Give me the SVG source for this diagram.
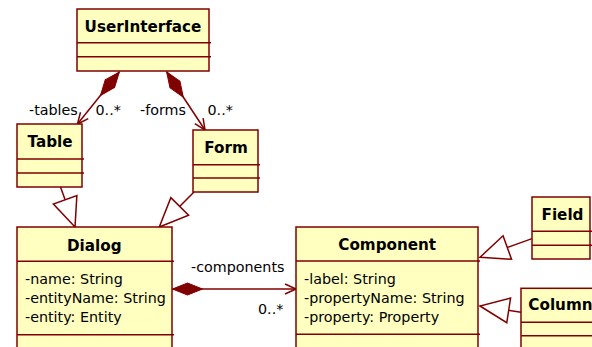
<svg xmlns="http://www.w3.org/2000/svg" width="592" height="347" viewBox="0 0 592 347">
<style>
.box{fill:#FFFFC0;stroke:#800000;stroke-width:1.5}
.sep{stroke:#800000;stroke-width:1.5}
.name{font-family:"DejaVu Sans",Verdana,sans-serif;font-weight:bold;font-size:15.2px;fill:#000}
.attr{font-family:"DejaVu Sans",Verdana,sans-serif;font-size:14.3px;fill:#000}
.lbl{font-family:"DejaVu Sans",Verdana,sans-serif;font-size:14.3px;fill:#000}
.edge{fill:none;stroke:#800000;stroke-width:1.5}
</style>
<defs>
<marker id="diamond" markerUnits="userSpaceOnUse" refX="0" refY="0" markerWidth="40" markerHeight="20" orient="auto" overflow="visible">
<path d="M0,0 L15,-6 L30,0 L15,6 Z" fill="#800000" stroke="#800000" stroke-width="1"/>
</marker>
<marker id="open" markerUnits="userSpaceOnUse" refX="0" refY="0" markerWidth="20" markerHeight="20" orient="auto" overflow="visible">
<path d="M-11,-5 L0,0 L-11,5" fill="none" stroke="#800000" stroke-width="1.5"/>
</marker>
<marker id="tri" markerUnits="userSpaceOnUse" refX="0" refY="0" markerWidth="40" markerHeight="40" orient="auto" overflow="visible">
<path d="M0,0 L-29,-12.5 L-29,12.5 Z" fill="#FFFFFF" stroke="#800000" stroke-width="1.5"/>
</marker>
</defs>

<g id="connectors">
<line class="edge" x1="119.3" y1="72" x2="77.5" y2="124" marker-start="url(#diamond)" marker-end="url(#open)"/>
<line class="edge" x1="166.7" y1="72" x2="205" y2="130" marker-start="url(#diamond)" marker-end="url(#open)"/>
<line class="edge" x1="172.5" y1="289" x2="296" y2="289" marker-start="url(#diamond)" marker-end="url(#open)"/>
<line class="edge" x1="60.5" y1="187" x2="75" y2="227" marker-end="url(#tri)"/>
<line class="edge" x1="194" y1="192" x2="159.3" y2="227" marker-end="url(#tri)"/>
<line class="edge" x1="532" y1="238.6" x2="480" y2="257.3" marker-end="url(#tri)"/>
<line class="edge" x1="521" y1="312.3" x2="480" y2="306" marker-end="url(#tri)"/>
<text class="lbl" x="29" y="115">-tables</text>
<text class="lbl" x="95.5" y="115">0..*</text>
<text class="lbl" x="140" y="115">-forms</text>
<text class="lbl" x="207.5" y="115">0..*</text>
<text class="lbl" x="191" y="271.5">-components</text>
<text class="lbl" x="258" y="313.5">0..*</text>
</g>

<g id="UserInterface">
<rect class="box" x="77" y="9" width="132" height="62"/>
<line class="sep" x1="77" y1="42.7" x2="211" y2="42.7"/>
<line class="sep" x1="77" y1="56.7" x2="211" y2="56.7"/>
<text class="name" x="143" y="31.7" text-anchor="middle">UserInterface</text>
</g>

<g id="Table">
<rect class="box" x="17" y="124" width="65" height="63"/>
<line class="sep" x1="17" y1="159" x2="84" y2="159"/>
<line class="sep" x1="17" y1="173" x2="84" y2="173"/>
<text class="name" x="50" y="146.7" text-anchor="middle">Table</text>
</g>

<g id="Form">
<rect class="box" x="193" y="130" width="65" height="62"/>
<line class="sep" x1="193" y1="164.7" x2="260" y2="164.7"/>
<line class="sep" x1="193" y1="178" x2="260" y2="178"/>
<text class="name" x="226" y="152.7" text-anchor="middle">Form</text>
</g>

<g id="Dialog">
<rect class="box" x="17" y="227" width="155" height="130"/>
<line class="sep" x1="17" y1="261.3" x2="174" y2="261.3"/>
<line class="sep" x1="17" y1="334.7" x2="174" y2="334.7"/>
<text class="name" x="94.3" y="250.7" text-anchor="middle">Dialog</text>
<text class="attr" x="25" y="283.5">-name: String</text>
<text class="attr" x="25" y="302.5">-entityName: String</text>
<text class="attr" x="25" y="321.5">-entity: Entity</text>
</g>

<g id="Component">
<rect class="box" x="296" y="227" width="182" height="130"/>
<line class="sep" x1="296" y1="261" x2="480" y2="261"/>
<line class="sep" x1="296" y1="334.3" x2="480" y2="334.3"/>
<text class="name" x="387.2" y="250" text-anchor="middle">Component</text>
<text class="attr" x="304" y="283.5">-label: String</text>
<text class="attr" x="304" y="302.5">-propertyName: String</text>
<text class="attr" x="304" y="321.5">-property: Property</text>
</g>

<g id="Field">
<rect class="box" x="532" y="197" width="58" height="62"/>
<line class="sep" x1="532" y1="231.3" x2="592" y2="231.3"/>
<line class="sep" x1="532" y1="245.3" x2="592" y2="245.3"/>
<text class="name" x="562.5" y="220" text-anchor="middle">Field</text>
</g>

<g id="Column">
<rect class="box" x="521" y="288.3" width="100" height="70"/>
<line class="sep" x1="521" y1="322.3" x2="621" y2="322.3"/>
<line class="sep" x1="521" y1="335.7" x2="621" y2="335.7"/>
<text class="name" x="528.3" y="310" text-anchor="start">Column</text>
</g>
</svg>
